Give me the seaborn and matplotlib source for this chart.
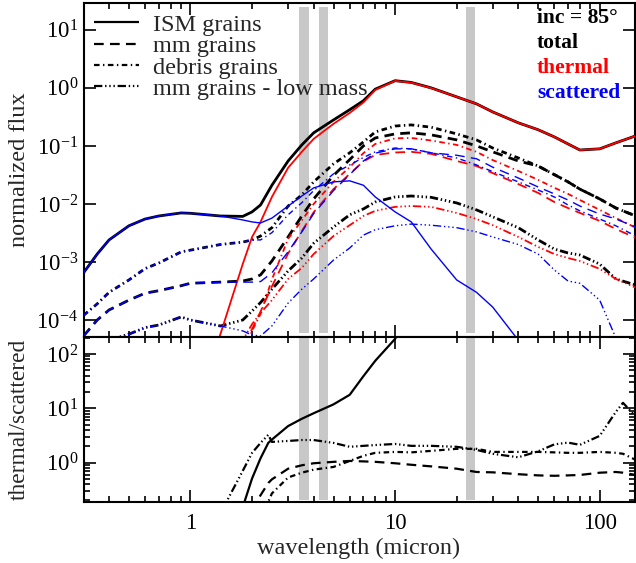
import numpy as np
import pandas as pd
import matplotlib
matplotlib.use("Agg")
import matplotlib.pyplot as plt
import seaborn as sns
from matplotlib.lines import Line2D
from matplotlib.ticker import (LogLocator, NullLocator, NullFormatter,
                               LogFormatterMathtext, FixedLocator, FixedFormatter)

# ---------------- data ----------------
wavelength = [0.3, 0.35, 0.4, 0.5, 0.6, 0.7, 0.9, 1.0, 1.4, 1.8, 2.0, 2.2,
              2.5, 3.0, 3.5, 4.0, 5.0, 6.0, 7.0, 8.0,
              10, 12, 15, 20, 25, 30, 40, 50, 60, 70, 80, 100, 120, 150]

ism_total = [6.5e-4, 1.37e-3, 2.4e-3, 4.2e-3, 5.5e-3, 6.2e-3, 7.0e-3, 6.9e-3, 6.2e-3, 6.1e-3, 7.3e-3, 9.6e-3,
             2.1e-2, 5.5e-2, 0.104, 0.168, 0.28, 0.42, 0.60, 0.95,
             1.33, 1.24, 1.0, 0.70, 0.53, 0.385, 0.25, 0.19, 0.143, 0.108, 0.085, 0.089, 0.113, 0.149]
ism_thermal = [1e-7, 1e-7, 1e-7, 1e-7, 1e-7, 1e-7, 1e-7, 1.3e-6, 5.7e-5, 9.2e-4, 2.7e-3, 4.9e-3,
               1.32e-2, 4.2e-2, 7.9e-2, 0.132, 0.24, 0.37, 0.56, 0.92,
               1.32, 1.23, 0.99, 0.70, 0.53, 0.385, 0.25, 0.19, 0.143, 0.108, 0.085, 0.089, 0.113, 0.149]
ism_scattered = [6.5e-4, 1.37e-3, 2.4e-3, 4.2e-3, 5.5e-3, 6.2e-3, 7.0e-3, 6.9e-3, 6.2e-3, 5.3e-3, 4.9e-3, 4.7e-3,
                 5.7e-3, 9.2e-3, 1.37e-2, 1.89e-2, 2.4e-2, 2.5e-2, 2.1e-2, 1.32e-2,
                 7.3e-3, 4.9e-3, 1.67e-3, 4.9e-4, 3.0e-4, 1.67e-4, 4.5e-5, 1e-7, 1e-7, 1e-7, 1e-7, 1e-7, 1e-7, 1e-7]

mm_total = [5.3e-5, 1.0e-4, 1.49e-4, 2.2e-4, 2.9e-4, 3.2e-4, 3.9e-4, 4.3e-4, 4.5e-4, 4.7e-4, 5.1e-4, 6.0e-4,
            1.04e-3, 2.7e-3, 6.2e-3, 1.22e-2, 3.1e-2, 5.8e-2, 0.10, 0.137,
            0.161, 0.168, 0.155, 0.127, 0.10, 0.079, 0.055, 0.045, 0.032, 0.024, 0.018, 0.0122, 8.5e-3, 6.2e-3]
mm_thermal = [1e-7, 1e-7, 1e-7, 1e-7, 1e-7, 1e-7, 1e-7, 1e-7, 1e-7, 3.3e-5, 7.0e-5, 1.4e-4,
              3.8e-4, 1.4e-3, 3.4e-3, 7.2e-3, 1.8e-2, 3.3e-2, 5.4e-2, 7.0e-2,
              7.7e-2, 7.9e-2, 7.3e-2, 5.5e-2, 4.5e-2, 3.4e-2, 2.2e-2, 1.55e-2, 1.08e-2, 8.5e-3, 7.0e-3, 5.1e-3, 3.7e-3, 2.6e-3]
mm_scattered = [5.3e-5, 1.0e-4, 1.49e-4, 2.2e-4, 2.9e-4, 3.2e-4, 3.9e-4, 4.3e-4, 4.5e-4, 4.5e-4, 4.5e-4, 4.6e-4,
                6.5e-4, 1.5e-3, 3.3e-3, 6.8e-3, 1.7e-2, 3.2e-2, 5.5e-2, 7.5e-2,
                8.9e-2, 8.9e-2, 7.6e-2, 6.9e-2, 6.0e-2, 4.3e-2, 2.8e-2, 1.96e-2, 1.49e-2, 1.17e-2, 9.2e-3, 6.7e-3, 5.5e-3, 4.0e-3]

debris_total = [1.2e-4, 1.9e-4, 3.0e-4, 4.9e-4, 7.7e-4, 9.6e-4, 1.49e-3, 1.6e-3, 2.0e-3, 2.2e-3, 2.4e-3, 2.8e-3,
                3.9e-3, 9.2e-3, 1.43e-2, 2.4e-2, 4.9e-2, 7.6e-2, 0.117, 0.174,
                0.22, 0.23, 0.21, 0.161, 0.127, 0.092, 0.062, 0.045, 0.032, 0.024, 0.018, 0.0122, 8.5e-3, 6.2e-3]
debris_thermal = [1e-7, 1e-7, 1e-7, 1e-7, 1e-7, 1e-7, 1e-7, 1e-7, 1e-7, 2.6e-5, 6.5e-5, 1.27e-4,
                  5.0e-4, 2.5e-3, 5.2e-3, 1.0e-2, 2.4e-2, 4.3e-2, 7.5e-2, 0.108,
                  0.135, 0.137, 0.124, 0.104, 0.079, 0.057, 0.037, 0.026, 0.019, 0.0149, 0.0117, 7.9e-3, 5.7e-3, 3.9e-3]
debris_scattered = [1.2e-4, 1.9e-4, 3.0e-4, 4.9e-4, 7.7e-4, 9.6e-4, 1.49e-3, 1.6e-3, 2.0e-3, 2.2e-3, 2.4e-3, 2.4e-3,
                    3.2e-3, 6.5e-3, 1.05e-2, 1.7e-2, 3.3e-2, 4.7e-2, 6.3e-2, 7.9e-2,
                    9.2e-2, 8.9e-2, 7.6e-2, 6.2e-2, 4.7e-2, 3.6e-2, 2.4e-2, 1.74e-2, 1.32e-2, 9.6e-3, 7.6e-3, 5.5e-3, 4.2e-3, 2.8e-3]

lowmass_total = [3.0e-5, 3.7e-5, 4.5e-5, 5.7e-5, 7.4e-5, 8.2e-5, 1.13e-4, 1.0e-4, 7.9e-5, 1.0e-4, 1.43e-4, 2.0e-4,
                 3.4e-4, 7.0e-4, 1.17e-3, 2.1e-3, 4.0e-3, 6.5e-3, 8.2e-3, 1.08e-2,
                 1.32e-2, 1.37e-2, 1.3e-2, 1.04e-2, 7.9e-3, 6.0e-3, 3.9e-3, 2.4e-3, 1.67e-3, 1.43e-3, 1.32e-3, 9.2e-4, 5.1e-4, 4.0e-4]
lowmass_thermal = [1e-7, 1e-7, 1e-7, 1e-7, 1e-7, 1e-7, 1e-7, 1e-7, 6e-6, 4.5e-5, 8.5e-5, 1.32e-4,
                   2.2e-4, 5.1e-4, 7.9e-4, 1.37e-3, 2.8e-3, 4.3e-3, 6.2e-3, 7.6e-3,
                   8.9e-3, 9.2e-3, 8.9e-3, 7.0e-3, 5.5e-3, 4.3e-3, 2.7e-3, 1.82e-3, 1.37e-3, 1.17e-3, 1.04e-3, 7.6e-4, 5.1e-4, 3.6e-4]
lowmass_scattered = [3.0e-5, 3.7e-5, 4.5e-5, 5.7e-5, 7.4e-5, 8.2e-5, 1.13e-4, 1.0e-4, 7.9e-5, 6.5e-5, 5.5e-5, 5.3e-5,
                     7.9e-5, 1.96e-4, 3.4e-4, 5.1e-4, 1.08e-3, 1.74e-3, 2.9e-3, 3.6e-3,
                     4.2e-3, 4.5e-3, 4.3e-3, 3.9e-3, 3.3e-3, 2.7e-3, 2.0e-3, 1.37e-3, 7.3e-4, 4.7e-4, 4.3e-4, 2.2e-4, 4.9e-5, 1e-7]

wavelength_ratio = [1.4, 1.5, 1.8, 2.0, 2.1, 2.2, 2.4, 2.5, 3.0, 3.5, 4.0, 5.0, 6.0, 7.0, 8.0,
                    10, 12, 15, 20, 25, 30, 40, 50, 60, 70, 80, 100, 120, 130, 150]
ratio_ism = [0.02, 0.04, 0.15, 0.51, 0.79, 1.2, 2.3, 2.65, 4.7, 6.4, 8.1, 11.8, 17.7, 39, 75,
             190, 600, 2000, 2000, 2000, 2000, 2000, 2000, 2000, 2000, 2000, 2000, 2000, 2000, 2000]
ratio_mm = [0.03, 0.05, 0.08, 0.14, 0.19, 0.25, 0.42, 0.49, 0.77, 0.89, 0.97, 1.03, 1.07, 1.05, 1.03,
            0.97, 0.91, 0.85, 0.77, 0.67, 0.66, 0.61, 0.58, 0.57, 0.58, 0.59, 0.65, 0.67, 0.65, 0.59]
ratio_debris = [0.01, 0.01, 0.01, 0.01, 0.01, 0.05, 0.19, 0.27, 0.53, 0.65, 0.74, 0.83, 1.07, 1.33, 1.51,
                1.57, 1.54, 1.64, 1.79, 1.79, 1.57, 1.57, 1.57, 1.54, 1.51, 1.51, 1.57, 1.51, 1.45, 1.12]
ratio_lowmass = [0.12, 0.19, 0.70, 1.51, 1.87, 2.3, 3.24, 2.4, 2.5, 2.6, 2.6, 2.3, 1.95, 2.03, 2.1,
                 2.2, 2.03, 2.03, 1.95, 1.71, 1.45, 1.25, 1.61, 2.16, 2.33, 2.12, 3.1, 8.6, 12.6, 7.0]

grain_labels = ["ISM grains", "mm grains", "debris grains", "mm grains - low mass"]
component_labels = ["total", "thermal", "scattered"]
filter_bands = [(3.4, 3.78), (4.26, 4.71), (22.3, 24.7)]
xtick_values = [1, 10, 100]
xtick_labels = ["1", "10", "100"]

# ---------------- style ----------------
sns.set_style("ticks")
plt.rcParams.update({
    "font.family": ["Liberation Serif", "DejaVu Serif"],
    "mathtext.fontset": "custom",
    "mathtext.rm": "Liberation Serif",
    "mathtext.it": "Liberation Serif:italic",
    "mathtext.bf": "Liberation Serif:bold",
    "lines.scale_dashes": False,
    "axes.linewidth": 1.5,
    "axes.edgecolor": "black",
    "lines.solid_capstyle": "butt",
    "lines.dash_capstyle": "butt",
})

FS = 17.5
TFS = 16.5
styles = {
    "ism": "-",
    "mm": (0, (7, 4.5)),
    "debris": (0, (4, 2.5, 1, 2.5)),
    "lowmass": (0, (6, 2, 1, 2, 1, 2, 1, 2)),
}
comp_style = {"total": ("black", 2.0), "thermal": ("red", 1.3), "scattered": ("blue", 1.0)}

top = pd.DataFrame({
    "wavelength": wavelength,
    "ism_total": ism_total, "ism_thermal": ism_thermal, "ism_scattered": ism_scattered,
    "mm_total": mm_total, "mm_thermal": mm_thermal, "mm_scattered": mm_scattered,
    "debris_total": debris_total, "debris_thermal": debris_thermal, "debris_scattered": debris_scattered,
    "lowmass_total": lowmass_total, "lowmass_thermal": lowmass_thermal,
    "lowmass_scattered": lowmass_scattered,
})
bottom = pd.DataFrame({
    "wavelength": wavelength_ratio,
    "ism": ratio_ism, "mm": ratio_mm, "debris": ratio_debris, "lowmass": ratio_lowmass,
})

fig = plt.figure(figsize=(6.36, 5.63), dpi=100)
ax1 = fig.add_axes([0.1313, 0.4023, 0.8664, 0.5924])
ax2 = fig.add_axes([0.1313, 0.1089, 0.8664, 0.2934])

for ax in (ax1, ax2):
    for lo, hi in filter_bands:
        ax.axvspan(lo, hi, ymin=0.012, ymax=0.988, color="#c8c8c8", lw=0, zorder=0)

for comp in component_labels:
    color, lw = comp_style[comp]
    for grain in ["ism", "mm", "debris", "lowmass"]:
        sns.lineplot(data=top, x="wavelength", y=f"{grain}_{comp}", ax=ax1,
                     color=color, lw=lw, linestyle=styles[grain], legend=False,
                     zorder=3)

for grain in ["ism", "mm", "debris", "lowmass"]:
    sns.lineplot(data=bottom, x="wavelength", y=grain, ax=ax2, color="black",
                 lw=1.6, linestyle=styles[grain], legend=False, zorder=3)

for ax in (ax1, ax2):
    ax.set_xscale("log")
    ax.set_yscale("log")
    ax.set_xlim(0.3, 148)
    ax.xaxis.set_minor_locator(LogLocator(base=10, subs=np.arange(2, 10), numticks=20))
    ax.xaxis.set_minor_formatter(NullFormatter())
    ax.tick_params(which="both", direction="in", top=True, right=True,
                   labelsize=TFS, width=1.2, colors="black")
    ax.tick_params(which="major", length=8.5, pad=4)
    ax.tick_params(which="minor", length=4.5)

ax1.set_ylim(5.2e-5, 29)
ax1.yaxis.set_major_locator(LogLocator(base=10, numticks=20))
ax1.yaxis.set_major_formatter(LogFormatterMathtext())
ax1.yaxis.set_minor_locator(NullLocator())
ax1.xaxis.set_major_locator(FixedLocator(xtick_values))
ax1.tick_params(labelbottom=False)

ax2.set_ylim(0.19, 210)
ax2.yaxis.set_major_locator(LogLocator(base=10, numticks=20))
ax2.yaxis.set_major_formatter(LogFormatterMathtext())
ax2.yaxis.set_minor_locator(LogLocator(base=10, subs=np.arange(2, 10), numticks=20))
ax2.yaxis.set_minor_formatter(NullFormatter())
ax2.xaxis.set_major_locator(FixedLocator(xtick_values))
ax2.xaxis.set_major_formatter(FixedFormatter(xtick_labels))
ax2.tick_params(axis="x", which="major", pad=8)

ax1.set_xlabel("")
ax1.set_ylabel("normalized flux", fontsize=FS)
ax1.yaxis.set_label_coords(-0.117, 0.5)
ax1.yaxis.label.set_verticalalignment("center")
ax2.set_ylabel("thermal/scattered", fontsize=16.8)
ax2.yaxis.set_label_coords(-0.117, 0.5)
ax2.yaxis.label.set_verticalalignment("center")
ax2.set_xlabel("wavelength (micron)", fontsize=FS)
ax2.xaxis.set_label_coords(0.5, -0.28)
ax2.xaxis.label.set_verticalalignment("center")

handles = [Line2D([], [], color="black", lw=1.6, linestyle=styles[g])
           for g in ["ism", "mm", "debris", "lowmass"]]
ax1.legend(handles, grain_labels, loc="upper left", bbox_to_anchor=(0.0, 1.0),
           frameon=False, fontsize=FS, handlelength=1.85, handletextpad=0.57,
           labelspacing=-0.03, borderpad=0.1, borderaxespad=0.35)

txt_colors = ["black", "black", "red", "blue"]
txt = ["inc = 85°", "total", "thermal", "scattered"]
for i, (t, c) in enumerate(zip(txt, txt_colors)):
    ax1.text(0.823, 0.955 - 0.075 * i, t, transform=ax1.transAxes, color=c,
             fontsize=15.5, fontweight="bold", ha="left", va="center", zorder=5)

fig.savefig("out.png", dpi=100)
